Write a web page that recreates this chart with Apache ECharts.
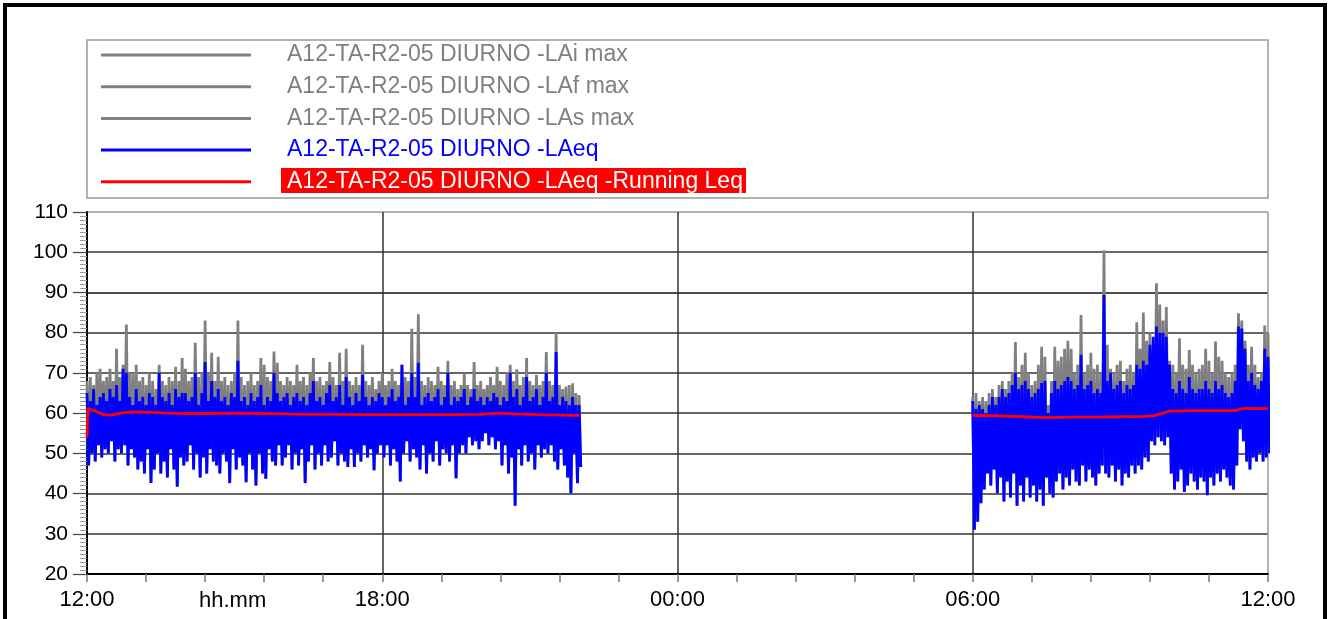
<!DOCTYPE html>
<html>
<head>
<meta charset="utf-8">
<script src="https://cdn.jsdelivr.net/npm/echarts@6/dist/echarts.min.js"></script>
<style>
  html, body { margin: 0; padding: 0; background: #fff; }
  #chart { width: 1330px; height: 619px; }
</style>
</head>
<body>
<div id="chart"></div>
<script>
// Time is counted in minutes from 12:00 of the first day (0 .. 1440).
const SLOT = 4;               // minutes per stored sample
const DAY_START = 0;          // 12:00
const MORNING_START = 1080;   // 06:00 next day

const seriesNames = [
  'A12-TA-R2-05 DIURNO -LAi max',
  'A12-TA-R2-05 DIURNO -LAf max',
  'A12-TA-R2-05 DIURNO -LAs max',
  'A12-TA-R2-05 DIURNO -LAeq',
  'A12-TA-R2-05 DIURNO -LAeq -Running Leq'
];
const xLabelTimes = [0, 360, 720, 1080, 1440];
const xLabelTexts = ['12:00', '18:00', '00:00', '06:00', '12:00'];

// Afternoon / evening block, one sample every 4 minutes (12:00 - 22:00)
const laiMaxDay = [
  68,69,67,70,71,68,69,71,68,76,
  69,72,82,70,70,72,68,69,67,70,
  68,66,72,68,67,69,68,71.5,68,73.7,
  71,68,69,77.5,69,70,83,70,75,68,
  74,68,69,67,68,70,83,69,67,68,
  70,67,68,73.7,72,69,68,75.3,72.5,68,
  67,69,68,67,72,68,69,67,70,73.7,
  68,69,67,68,72.7,69,67,75,68,76,
  68,67,69,67,77,68,67,69,66,68,
  70,67,68,71,68,67,72,69,68,81,
  69,84.6,68,67,69,68,67,71.5,68,67,
  73,67,68,66,67,70,67,66,72.7,67,
  68,66,67,69,67,71.5,68,67,70,72,
  68,70.9,67,69,73.7,68,67,69.5,67,68,
  75.2,68,67,80,67,66,66.6,67,67.4,65,64.5
];
const laeqHiDay = [
  65,63,66,62,64,65,63,66,64,67,
  63,71,70,64,62,66,63,64,62,65,
  64,62,70,64,63,65,62,66,64,65,
  65,63,64,70,62,65,72.7,63,68,64,
  66,63,64,62,65,64,73,63,64,62,
  65,63,64,67,62,64,63,70,65,63,
  64,65,62,64,65,63,64,62,65,68,
  63,64,62,65,67,63,64,67,62,69,
  64,62,65,63,69.5,64,62,64,63,65,
  64,62,64,66,63,64,72,62,64,70,
  64,72.5,62,64,65,63,64,66,62,64,
  70,62,64,63,64,66,62,64,66,63,
  64,62,64,63,65,64,62,64,63,70,
  64,66,62,64,69,63,64,66,62,64,
  70,63,64,75.2,62,64,63,62,64,62,62
];
const laeqLoDay = [
  47,50,48,52,49,51,50,53,48,51,
  50,52,47,51,49,46,48,45,51,42.6,
  46,50,45,48,44,51,46,41.7,49,47,
  48,52,46,50,44,49,45,51,48,47,
  45,50,48,42.6,51,46,49,47,42.8,50,
  46,42,50,45,43.7,51,48,47,52,47,
  49,52,46,50,47,51,42.6,48,52,46,
  50,47,52,48,49,53,47,50,48,46.6,
  51,46.6,50,48,52,49,51,45.8,50,52,
  49,52,47,51,48,43,50,53,48,51,
  49,46,52,45,50,48,53,47,51,50,
  48,52,43.8,50,52,50,54,52,53,51,
  53,55,52,54,51,53,47,52,45,49,
  37,51,47,52,48,50,46,52,49,51,
  50,52,48,46,51,47,44,40,50,42.6,46.6
];

// Morning block, one sample every 4 minutes (06:00 - 12:00)
const laiMaxMorning = [
  64,65,63,64,63,65,66,64,67,68,
  66,68,70,77.7,69,72,75,70,67,68,
  72,76.5,74,62,68,76.5,73,74,76,78,
  76,70,72,84.4,70,72,75,71,72,70,
  100.5,77,71,70,72,73,68,71,72,70,
  82.6,76,85,78,80,75,92.3,87,83,86.4,
  73,72,70,78.6,72,71,75.7,72,70,71,
  72,76,73,70,77.8,74,73,70,69,70,
  72,84.8,83,78,72,76.5,72,69,70,81.8,80
];
const laeqHiMorning = [
  63,61,62,61,60,62,64,62,64,66,
  64,65,67,70,66,67,68,66,64,65,
  66,67.5,68,60,65,68,66,67,68,69,
  68,66,67,74.5,66,67,68,65,66,65,
  89.4,68,70,66,67,68,65,67,66,67,
  72,71,73,72,77,79,81.5,80,80,79,
  72,66,65,68,66,65,69,66,65,66,
  66,68,66,65,68,66,67,65,64,65,
  68,81.5,81,76,68,70,67,66,68,76,74
];
const laeqLoMorning = [
  31,33,37.6,41,45,42,46,40,44,38,
  43,39,45,37,42,38,44,39,42,38,
  41,37,44,40,39,43,45,41,44,42,
  46,43,42,47,43,46,44,42,45,47,
  45,44,47,43,46,42,45,44,47,45,
  47,46,49,48,53,52,54,53,52,54,
  45,41,43,46,40.4,42,45,43,41,44,
  43,39.6,44,42,45,43,46,44,42,41,
  47,56,53,48,46,49,48,50,48,49,50
];

// Coarser fast / slow maxima, one value every 40 minutes
const COARSE = 40;
const lafMaxDay = [63,64,64,64,64,63,64,64,63,63,64,63,64,63,63,62];
const lafMaxMorning = [61,62,61,63,64,65,64,64,63,64];
const lasMaxDay = [62,63,63,63,63,62,63,63,62,62,63,62,63,62,62,61];
const lasMaxMorning = [60,61,60,62,63,64,63,63,62,63];

// Running Leq
const runDayTimes = [0,1,10,20,30,45,60,80,100,120,150,180,210,240,270,300,330,360,390,420,450,480,500,520,550,580,600];
const runDayLeq = [54,61.2,60.5,59.6,59.5,60.1,60.3,60.2,60.0,59.9,59.9,60.0,59.9,59.8,59.7,59.7,59.6,59.6,59.6,59.6,59.6,59.7,60.0,59.8,59.6,59.5,59.4];
const runMorningTimes = [1080,1110,1140,1170,1200,1230,1260,1290,1300,1312,1320,1350,1380,1400,1405,1412,1440];
const runMorningLeq = [59.4,59.3,59.1,58.9,59.0,59.0,59.1,59.2,59.3,60.0,60.5,60.6,60.6,60.6,60.9,61.2,61.1];

const GAP = [['-', '-']];

// Each stored sample is drawn as a stroke from its maximum down to its minimum.
function strokes(start, hi, lo) {
  const out = [];
  for (let i = 0; i < hi.length; i++) {
    const t = start + i * SLOT;
    out.push([t, hi[i]], [t + SLOT / 2, lo[i]]);
  }
  return out;
}
function pairs(times, vals) { return times.map((t, i) => [t, vals[i]]); }
function even(start, step, vals) { return vals.map((v, i) => [start + i * step, v]); }

const laiData = strokes(DAY_START, laiMaxDay, laeqLoDay).concat(GAP, strokes(MORNING_START, laiMaxMorning, laeqLoMorning));
const laeqData = strokes(DAY_START, laeqHiDay, laeqLoDay).concat(GAP, strokes(MORNING_START, laeqHiMorning, laeqLoMorning));
const lafData = even(DAY_START, COARSE, lafMaxDay).concat(GAP, even(MORNING_START, COARSE, lafMaxMorning));
const lasData = even(DAY_START, COARSE, lasMaxDay).concat(GAP, even(MORNING_START, COARSE, lasMaxMorning));
const runData = pairs(runDayTimes, runDayLeq).concat(GAP, pairs(runMorningTimes, runMorningLeq));

const FONT = 'Liberation Sans, Arial, sans-serif';
const GRAY = '#808080', BLUE = '#0000ff', RED = '#ff0000';

function line(name, data, color, width, z) {
  return {
    name, type: 'line', data, z,
    showSymbol: false, symbol: 'none', connectNulls: false,
    lineStyle: { color, width, join: 'bevel' }, itemStyle: { color },
    animation: false, silent: true
  };
}

const chart = echarts.init(document.getElementById('chart'), null, { renderer: 'canvas' });
chart.setOption({
  backgroundColor: '#fff',
  animation: false,
  grid: { left: 87, right: 62, top: 212, bottom: 45, containLabel: false },
  legend: {
    orient: 'vertical', left: 96, top: 38, z: 10,
    itemWidth: 150, itemHeight: 3, itemGap: 7.7, icon: 'rect',
    selectedMode: false,
    textStyle: { fontFamily: FONT, fontSize: 23, lineHeight: 24, color: GRAY, padding: [0, 0, 0, 31] },
    data: [
      { name: seriesNames[0] },
      { name: seriesNames[1] },
      { name: seriesNames[2] },
      { name: seriesNames[3], textStyle: { color: BLUE } },
      { name: seriesNames[4], textStyle: { color: '#fff' } }
    ]
  },
  xAxis: [
    {
      type: 'value', min: 0, max: 1440, interval: 72,
      axisLine: { lineStyle: { color: '#000', width: 2 } },
      axisTick: { show: true, length: 8, lineStyle: { color: '#777', width: 1.5 } },
      axisLabel: {
        fontFamily: FONT, fontSize: 22, color: '#000', margin: 15,
        showMinLabel: true, showMaxLabel: true,
        formatter: v => { const k = xLabelTimes.indexOf(v); return k >= 0 ? xLabelTexts[k] : ''; }
      },
      splitLine: { show: false }
    },
    {
      type: 'value', min: 0, max: 1440, interval: 360, position: 'top',
      axisLine: { show: false }, axisTick: { show: false }, axisLabel: { show: false },
      splitLine: { show: true, lineStyle: { color: ['#000', '#333', '#333', '#333', '#999'], width: 1.5 } }
    }
  ],
  yAxis: {
    type: 'value', min: 20, max: 110, interval: 10,
    axisLine: { show: true, lineStyle: { color: '#000', width: 2 } },
    axisTick: { show: true, length: 14, lineStyle: { color: '#444', width: 1.2 } },
    minorTick: { show: true, splitNumber: 10, length: 7, lineStyle: { color: '#999', width: 1 } },
    axisLabel: { fontFamily: FONT, fontSize: 21, color: '#000', margin: 19 },
    splitLine: { show: true, lineStyle: { color: ['#000', '#333', '#333', '#333', '#333', '#333', '#333', '#111', '#333', '#999'], width: 1.5 } }
  },
  graphic: [
    { type: 'rect', z: 0, shape: { x: 5, y: 5, width: 1320, height: 640 }, style: { fill: 'none', stroke: '#000', lineWidth: 4 }, silent: true },
    { type: 'rect', z: 0, shape: { x: 87, y: 40, width: 1181, height: 158 }, style: { fill: 'none', stroke: '#999', lineWidth: 1.5 }, silent: true },
    // red highlight behind the running Leq legend entry
    { type: 'rect', z: 1, shape: { x: 281, y: 168, width: 465, height: 25 }, style: { fill: RED }, silent: true },
    { type: 'text', z: 1, left: 233 - 34, top: 590, style: { text: 'hh.mm', font: '22px ' + FONT, fill: '#000' }, silent: true }
  ],
  series: [
    line(seriesNames[2], lasData, GRAY, 1.5, 2),
    line(seriesNames[1], lafData, GRAY, 1.5, 3),
    line(seriesNames[0], laiData, GRAY, 2.8, 4),
    line(seriesNames[3], laeqData, BLUE, 2.8, 5),
    line(seriesNames[4], runData, RED, 2.8, 6)
  ]
});
</script>
</body>
</html>
